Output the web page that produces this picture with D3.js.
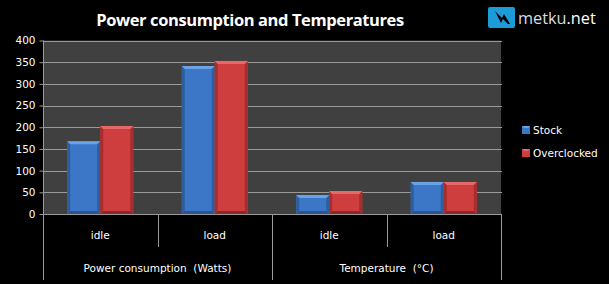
<!DOCTYPE html>
<html>
<head>
<meta charset="utf-8">
<script src="https://cdn.jsdelivr.net/npm/d3@7"></script>
<style>
  body { margin: 0; background: #000; }
  svg { display: block; }
</style>
</head>
<body>
<div class="chart"></div>
<script>
// chart data
const categories = ["idle", "load", "idle", "load"];
const groups = ["Power consumption  (Watts)", "Temperature  (°C)"];
const series = ["Stock", "Overclocked"];
const stock = [168, 341, 44, 74];
const overclocked = [203, 353, 53, 74];
const yTicks = [0, 50, 100, 150, 200, 250, 300, 350, 400];

const width = 609, height = 284;
const plot = {left: 43, right: 501, top: 40.5, bottom: 214};

const colors = {
  Stock: {main: "#3b77c6", top: "#6aa2e6", side: "#2d5f9e", bottom: "#2a5590"},
  Overclocked: {main: "#cf3e3e", top: "#e46a6a", side: "#a52e2e", bottom: "#922626"}
};

const svg = d3.select(".chart").append("svg")
  .attr("width", width)
  .attr("height", height);

svg.append("rect").attr("width", width).attr("height", height).attr("fill", "#000");

// title
svg.append("text")
  .attr("x", 250).attr("y", 26)
  .attr("text-anchor", "middle")
  .attr("fill", "#fff")
  .attr("font-family", "'Open Sans', sans-serif")
  .attr("font-weight", "bold")
  .attr("font-size", 16.5)
  .attr("letter-spacing", -0.4)
  .text("Power consumption and Temperatures");

// logo
const logo = svg.append("g");
logo.append("rect")
  .attr("x", 488).attr("y", 7).attr("width", 27).attr("height", 21).attr("rx", 2)
  .attr("fill", "#1b9bd7");
logo.append("path")
  .attr("d", "M495,11 L502,18 L504,14 L510,24 L508,24 L503,19 L501,23 Z")
  .attr("fill", "#000");
logo.append("text")
  .attr("x", 518).attr("y", 24)
  .attr("font-family", "'Open Sans', sans-serif")
  .attr("font-size", 16.3)
  .attr("fill", "#d8dde0")
  .text("metku")
  .append("tspan").attr("fill", "#fff").text(".net");

// scales
const x = d3.scaleBand()
  .domain(d3.range(categories.length))
  .range([plot.left, plot.right]);

const xs = d3.scaleBand()
  .domain(series)
  .range([0, x.bandwidth()])
  .paddingOuter(0.735);

const y = d3.scaleLinear()
  .domain([0, 400])
  .range([plot.bottom, plot.top]);

// plot area
svg.append("rect")
  .attr("x", plot.left).attr("y", plot.top)
  .attr("width", plot.right - plot.left).attr("height", plot.bottom - plot.top)
  .attr("fill", "#404040");

// gridlines
svg.append("g").selectAll("line")
  .data(yTicks.filter(d => d > 0))
  .join("line")
  .attr("x1", plot.left).attr("x2", plot.right + 1)
  .attr("y1", d => Math.round(y(d)) + 0.5).attr("y2", d => Math.round(y(d)) + 0.5)
  .attr("stroke", "#9a9a9a");

// y axis
const yAxis = svg.append("g")
  .attr("transform", "translate(" + (plot.left + 0.5) + ",0)")
  .call(d3.axisLeft(y).tickValues(yTicks).tickSize(4).tickPadding(4));
yAxis.select(".domain").attr("stroke", "#9a9a9a").attr("d", "M0," + plot.top + "V" + plot.bottom);
yAxis.selectAll(".tick line").attr("stroke", "#9a9a9a");
yAxis.selectAll(".tick text")
  .attr("fill", "#fff")
  .attr("font-family", "'DejaVu Sans', sans-serif")
  .attr("font-size", 10.5);

// bars
const data = [];
categories.forEach((c, i) => {
  data.push({i: i, s: "Stock", v: stock[i]});
  data.push({i: i, s: "Overclocked", v: overclocked[i]});
});

const b = 3;
const bars = svg.append("g").selectAll("g")
  .data(data)
  .join("g")
  .attr("transform", d => "translate(" + (x(d.i) + xs(d.s)) + "," + y(d.v) + ")");

const bw = xs.bandwidth();
bars.append("rect")
  .attr("width", bw)
  .attr("height", d => plot.bottom - y(d.v))
  .attr("fill", d => colors[d.s].main);
// side bevels
bars.append("path")
  .attr("d", d => { const h = plot.bottom - y(d.v); return "M0,0L" + b + "," + b + "L" + b + "," + (h - b) + "L0," + h + "Z"; })
  .attr("fill", d => colors[d.s].side);
bars.append("path")
  .attr("d", d => { const h = plot.bottom - y(d.v); return "M" + bw + ",0L" + (bw - b) + "," + b + "L" + (bw - b) + "," + (h - b) + "L" + bw + "," + h + "Z"; })
  .attr("fill", d => colors[d.s].side);
bars.append("path")
  .attr("d", d => { const h = plot.bottom - y(d.v); return "M0," + h + "L" + b + "," + (h - b) + "L" + (bw - b) + "," + (h - b) + "L" + bw + "," + h + "Z"; })
  .attr("fill", d => colors[d.s].bottom);
bars.append("path")
  .attr("d", "M0,0L" + bw + ",0L" + (bw - b) + "," + b + "L" + b + "," + b + "Z")
  .attr("fill", d => colors[d.s].top);

// baseline
svg.append("line")
  .attr("x1", plot.left).attr("x2", plot.right + 1)
  .attr("y1", plot.bottom + 0.5).attr("y2", plot.bottom + 0.5)
  .attr("stroke", "#9a9a9a");

// category axis: dividers
const axisG = svg.append("g");
d3.range(categories.length + 1).forEach(i => {
  const xp = Math.round(plot.left + i * x.step()) + 0.5;
  const outer = i % 2 === 0;
  axisG.append("line")
    .attr("x1", xp).attr("x2", xp)
    .attr("y1", plot.bottom).attr("y2", outer ? 280 : 247)
    .attr("stroke", "#9a9a9a");
});

axisG.selectAll(".cat")
  .data(categories)
  .join("text")
  .attr("x", (d, i) => x(i) + x.bandwidth() / 2)
  .attr("y", 239)
  .attr("text-anchor", "middle")
  .attr("fill", "#fff")
  .attr("font-family", "'DejaVu Sans', sans-serif")
  .attr("font-size", 10.5)
  .text(d => d);

axisG.selectAll(".grp")
  .data(groups)
  .join("text")
  .attr("x", (d, i) => x(i * 2) + x.bandwidth())
  .attr("y", 272)
  .attr("text-anchor", "middle")
  .attr("fill", "#fff")
  .attr("font-family", "'DejaVu Sans', sans-serif")
  .attr("font-size", 10.5)
  .attr("xml:space", "preserve")
  .style("white-space", "pre")
  .text(d => d);

// legend
const legend = svg.append("g").selectAll("g")
  .data(series)
  .join("g")
  .attr("transform", (d, i) => "translate(522," + (126 + i * 23) + ")");
legend.append("rect")
  .attr("width", 8).attr("height", 8)
  .attr("fill", d => colors[d].main);
legend.append("path")
  .attr("d", "M0,0L8,0L6,2L2,2Z")
  .attr("fill", d => colors[d].top);
legend.append("text")
  .attr("x", 11).attr("y", 8)
  .attr("fill", "#fff")
  .attr("font-family", "'DejaVu Sans', sans-serif")
  .attr("font-size", 10.5)
  .text(d => d);
</script>
</body>
</html>
